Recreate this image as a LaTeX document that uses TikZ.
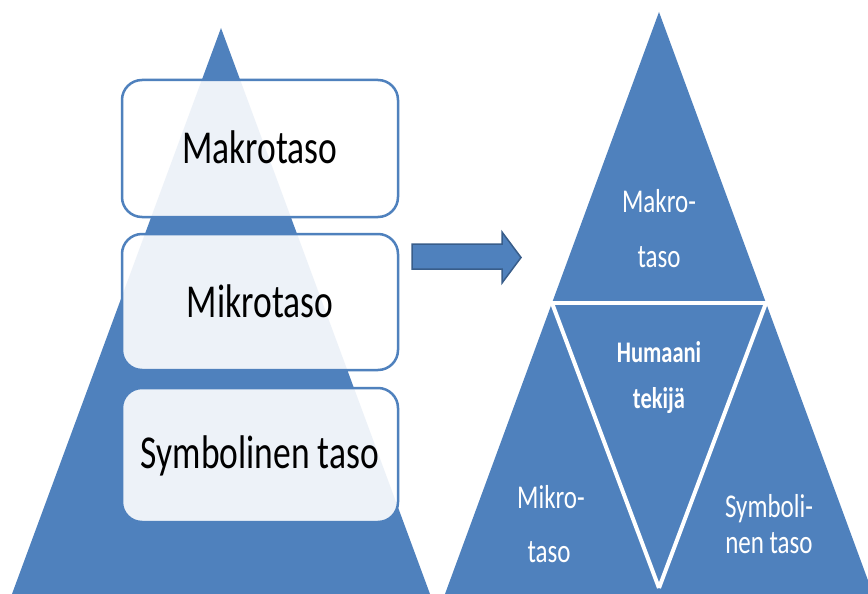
\documentclass[tikz,border=0pt]{standalone}
\usepackage{fontspec}
\setmainfont{Carlito}
\usepackage{graphicx}
\definecolor{tierblue}{HTML}{4F81BD}
\definecolor{tieredge}{HTML}{385D8A}
% Calibri-like text, stretched vertically
\newcommand{\tallstr}[1]{\scalebox{1}[1.33]{#1}}
\tikzset{
  boxlabel/.style={anchor=base, inner sep=0pt, text=black,
    font=\fontsize{35.5}{40}\selectfont},
  tierlabel/.style={anchor=base, inner sep=0pt, text=white,
    font=\fontsize{25}{30}\selectfont},
  corelabel/.style={anchor=base, inner sep=0pt, text=white,
    font=\fontsize{22.5}{27}\selectfont\bfseries},
  levelbox/.style={draw=tierblue, line width=2.5pt, rounded corners=20pt,
    fill=white, fill opacity=0.9, text opacity=1},
  gapline/.style={draw=white, line width=4pt, line cap=butt},
}
\begin{document}
\begin{tikzpicture}[x=1pt, y=-1pt]
\useasboundingbox (0,0) rectangle (868,594);
\fill[white] (0,0) rectangle (868,594);

% ---- left: pyramid with three level boxes ----
\fill[tierblue] (221,28) -- (430,594) -- (12,594) -- cycle;

\path[levelbox] (122,80) rectangle (398,217);
\path[levelbox] (122,234) rectangle (398,370);
\path[levelbox] (122,388) rectangle (398,522);

\node[boxlabel] (makro) at (260,163) {\tallstr{Makrotaso}};
\node[boxlabel] (mikro) at (260,317) {\tallstr{Mikrotaso}};
\node[boxlabel] (symb)  at (260,468) {\tallstr{Symbolinen taso}};

% ---- block arrow ----
\draw[fill=tierblue, draw=tieredge, line width=1.5pt, line join=miter]
  (412,244) -- (502,244) -- (502,232) -- (521,257.5) -- (502,283)
  -- (502,269) -- (412,269) -- cycle;

% ---- right: pyramid split into four triangles ----
\coordinate (top) at (659,12);
\coordinate (midL) at (552,303);
\coordinate (midR) at (766,303);
\coordinate (botC) at (659,594);
\begin{scope}
  \clip (0,0) rectangle (868,594);
  \fill[tierblue] (top) -- (873,594) -- (445,594) -- cycle;
  \draw[gapline] ([xshift=-6pt]midL) -- ([xshift=6pt]midR);
  \draw[gapline] (midL) -- ([yshift=6pt]botC);
  \draw[gapline] (midR) -- ([yshift=6pt]botC);
\end{scope}

\node[tierlabel] (makroA) at (659,212) {\tallstr{Makro-}};
\node[tierlabel] (makroB) at (659,267) {\tallstr{taso}};
\node[corelabel] (humA) at (659,362) {\tallstr{Humaani}};
\node[corelabel] (humB) at (659,408) {\tallstr{tekijä}};
\node[tierlabel] (mikroA) at (551,508) {\tallstr{Mikro-}};
\node[tierlabel] (mikroB) at (549,562) {\tallstr{taso}};
\node[tierlabel] (symbA) at (769,517) {\tallstr{Symboli-}};
\node[tierlabel] (symbB) at (769,553) {\tallstr{nen taso}};
\end{tikzpicture}
\end{document}
